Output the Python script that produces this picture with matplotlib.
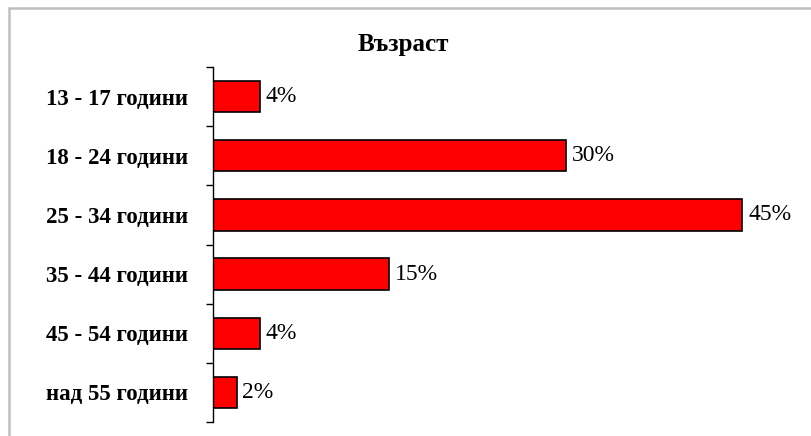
import numpy as np
import matplotlib.pyplot as plt
from matplotlib.patches import Rectangle

categories = ["13 - 17 години", "18 - 24 години", "25 - 34 години",
              "35 - 44 години", "45 - 54 години", "над 55 години"]
values = [4, 30, 45, 15, 4, 2]
title = "Възраст"

W, H = 812, 436
fig = plt.figure(figsize=(W / 100, H / 100), dpi=100)

# grey frame around the chart area
fig.patches.append(Rectangle((9 / W, -0.1), 1.2, (H - 8) / H + 0.1,
                             transform=fig.transFigure, fill=False,
                             edgecolor="#bfbfbf", linewidth=1.8))

left, right = 213, 213 + 50 * 11.76
top, bottom = 67, 422
ax = fig.add_axes([left / W, 1 - bottom / H, (right - left) / W, (bottom - top) / H])

y = np.arange(len(categories))
ax.barh(y, values, height=0.53, color="#ff0000", edgecolor="black", linewidth=1.2)
ax.set_xlim(0, 50)
ax.set_ylim(len(categories) - 0.5, -0.5)

for yi, v in zip(y, values):
    ax.text(v + 0.5, yi, f"{v}%", va="center", ha="left",
            fontsize=17, family="Liberation Serif")

ax.set_yticks(y)
ax.set_yticklabels(categories, fontsize=16.5, fontweight="bold", family="Liberation Serif")
ax.tick_params(axis="y", which="major", length=0, pad=18)
ax.set_yticks(np.arange(len(categories) + 1) - 0.5, minor=True)
ax.tick_params(axis="y", which="minor", length=5, width=1, color="black")
ax.set_xticks([])
for s in ["top", "right", "bottom"]:
    ax.spines[s].set_visible(False)
ax.spines["left"].set_linewidth(1)

fig.text(403 / W, 1 - 44 / H, title, ha="center", va="center", fontsize=18,
         fontweight="bold", family="Liberation Serif")

fig.savefig("out.png", dpi=100)
